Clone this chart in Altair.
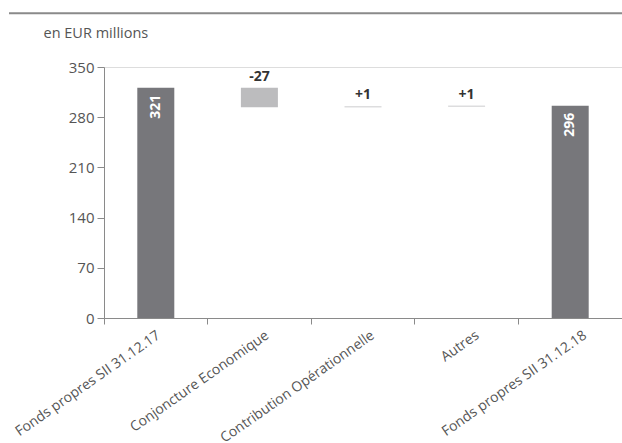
import altair as alt
import pandas as pd

categories = [
    "Fonds propres SII 31.12.17",
    "Conjoncture Economique",
    "Contribution Opérationnelle",
    "Autres",
    "Fonds propres SII 31.12.18",
]
amounts = [321, -27, 1, 1, 296]
kinds = ["total", "delta", "delta", "delta", "total"]
y_ticks = [0, 70, 140, 210, 280, 350]
label_shift = [-1, 4, 6, 7, 11]

rows = []
running = 0
for c, a, k in zip(categories, amounts, kinds):
    if k == "total":
        start, end = 0, a
        running = a
        label = str(a)
    else:
        start = running
        end = running + a
        running = end
        label = f"{a:+d}"
    rows.append(dict(cat=c, start=start, end=end, top=max(start, end), kind=k, label=label))
df = pd.DataFrame(rows)

FONT = "Open Sans"
GREY = "#8a8a8a"
TXT = "#555555"

offset_cond = {
    "condition": [
        {"test": f"datum.value === '{c}'", "value": s}
        for c, s in zip(categories, label_shift)
    ],
    "value": 0,
}

X = alt.X(
    "cat:N",
    sort=categories,
    scale=alt.Scale(paddingInner=0, paddingOuter=0),
    axis=alt.Axis(
        title=None,
        bandPosition=0,
        labelAngle=325,
        labelAlign="right",
        labelBaseline="top",
        labelPadding=4,
        labelFontSize=14,
        labelColor=TXT,
        labelFont=FONT,
        labelLimit=400,
        labelOverlap=False,
        labelBound=False,
        labelOffset=offset_cond,
        tickSize=6,
        tickColor=GREY,
        domainColor=GREY,
    ),
)

yscale = alt.Scale(domain=[0, 350], nice=False)

base = alt.Chart(df)

bars = base.mark_bar(size=37).encode(
    x=X,
    y=alt.Y(
        "start:Q",
        scale=yscale,
        axis=alt.Axis(
            values=y_ticks,
            grid=False,
            title="en EUR millions",
            titleAngle=0,
            titleAlign="left",
            titleBaseline="alphabetic",
            titleX=-61,
            titleY=-30,
            titleFont=FONT,
            titleFontSize=14.5,
            titleFontWeight="normal",
            titleColor=TXT,
            labelFontSize=15,
            labelColor=TXT,
            labelFont=FONT,
            labelPadding=3,
            tickSize=7,
            tickColor=GREY,
            domainColor=GREY,
        ),
    ),
    y2="end:Q",
    color=alt.Color(
        "kind:N",
        scale=alt.Scale(domain=["total", "delta"], range=["#77777b", "#bcbcbe"]),
        legend=None,
    ),
)

total_text = base.transform_filter(alt.datum.kind == "total").mark_text(
    angle=270,
    align="right",
    baseline="middle",
    dx=-7,
    color="white",
    fontWeight="bold",
    fontSize=14,
    font=FONT,
).encode(x=X, y=alt.Y("end:Q", scale=yscale), text="label:N")

delta_text = base.transform_filter(alt.datum.kind == "delta").mark_text(
    align="center",
    baseline="alphabetic",
    dy=-7,
    color="#333333",
    fontWeight="bold",
    fontSize=14,
    font=FONT,
).encode(x=X, y=alt.Y("top:Q", scale=yscale), text="label:N")

rule = alt.Chart(pd.DataFrame({"k": [0]})).mark_rule(
    color=GREY, strokeWidth=2
).encode(x=alt.value(-95), x2=alt.value(518), y=alt.value(-53.7))

chart = (
    alt.layer(bars, total_text, delta_text, rule)
    .properties(
        width=518,
        height=251,
        autosize=alt.AutoSizeParams(type="none"),
        padding={"left": 104, "top": 67, "right": 0, "bottom": 125},
    )
    .configure_view(strokeWidth=0)
    .configure(font=FONT)
)

chart.save("out.html", embed_options={"renderer": "svg", "actions": False})
